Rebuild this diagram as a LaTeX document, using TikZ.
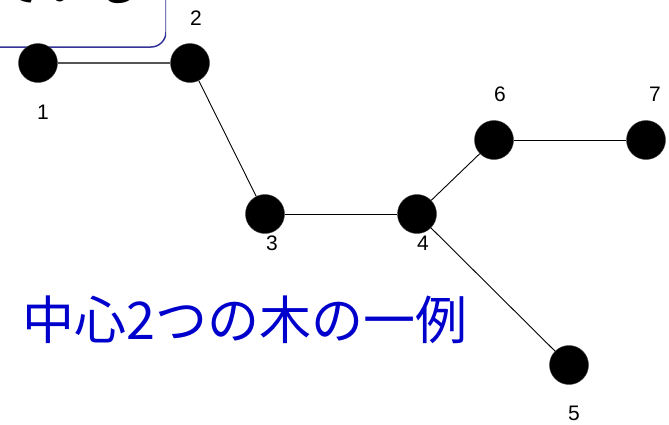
\documentclass[tikz,border=0pt]{standalone}
\usepackage{fontspec}
\setmainfont{Liberation Sans}
\newfontfamily\cjk{Noto Sans CJK JP}
\tikzset{
  vertex/.style={circle,fill=black,draw={rgb, 255:red, 60; green, 60; blue, 60 },minimum size=39pt,inner sep=0pt},
  vlabel/.style={inner sep=0.75pt,font=\fontsize{21}{24}\selectfont},
  edge/.style={draw=black,line width=0.9pt}
}
\begin{document}
\begin{tikzpicture}[x=1pt,y=1pt,yscale=-1,xscale=1]
\useasboundingbox (0,0) rectangle (669,424);

%Shape: Rounded Rect
\begin{scope}
\clip (-30,-60) rectangle (166,47);
\draw [draw={rgb, 255:red, 51; green, 51; blue, 153 },line width=1.5pt,rounded corners=15pt] (-30,-60) rectangle (166,47);
\node [anchor=base west,inner sep=0pt] (boxtext) at (-8,1) {\cjk\fontsize{50}{60}\selectfont ている};
\end{scope}

%Shape: Circle
\node [vertex] (v1) at (38,63) {};
\node [vertex] (v2) at (190,63) {};
\node [vertex] (v3) at (265,214) {};
\node [vertex] (v4) at (417,214) {};
\node [vertex] (v5) at (569,365) {};
\node [vertex] (v6) at (494,140) {};
\node [vertex] (v7) at (646,140) {};

%Straight Lines
\draw [draw={rgb, 255:red, 85; green, 85; blue, 85 },line width=1.5pt] (v1) -- (v2) ;
\draw [edge] (v2) -- (v3) ;
\draw [edge] (v3) -- (v4) ;
\draw [edge] (v4) -- (v5) ;
\draw [edge] (v4) -- (v6) ;
\draw [edge] (v6) -- (v7) ;

% Text Node
\node [vlabel] (l1) at (43,112) {1};
\node [vlabel] (l2) at (196,18) {2};
\node [vlabel] (l3) at (272,243) {3};
\node [vlabel] (l4) at (423,243) {4};
\node [vlabel] (l5) at (574,413) {5};
\node [vlabel] (l6) at (500,94) {6};
\node [vlabel] (l7) at (655,94) {7};

% Text Node
\node [anchor=west,inner sep=0pt,text={rgb, 255:red, 0; green, 0; blue, 204 }] (title) at (22,320) {\cjk\fontsize{52}{62}\selectfont 中心2つの木の一例};

\end{tikzpicture}
\end{document}
